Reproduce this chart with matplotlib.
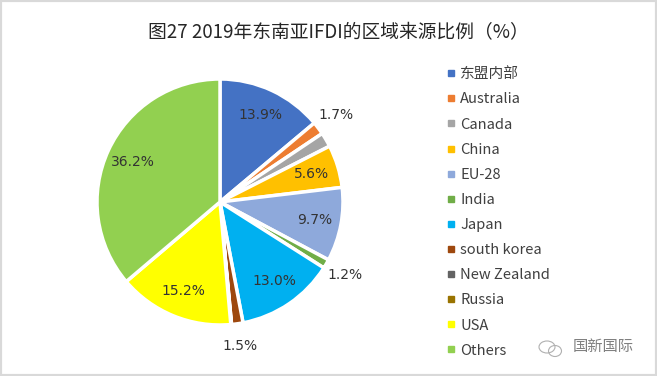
import numpy as np
import matplotlib.pyplot as plt
from matplotlib.lines import Line2D
from matplotlib.patches import Rectangle, Ellipse

plt.rcParams['font.family'] = ['Noto Sans CJK SC', 'DejaVu Sans']

labels = ['东盟内部', 'Australia', 'Canada', 'China', 'EU-28', 'India', 'Japan',
          'south korea', 'New Zealand', 'Russia', 'USA', 'Others']
values = [13.9, 1.7, 1.9, 5.6, 9.7, 1.2, 13.0, 1.5, 0.05, 0.05, 15.2, 36.2]
colors = ['#4472C4', '#ED7D31', '#A5A5A5', '#FFC000', '#8EA9DB', '#70AD47',
          '#00B0F0', '#9E480E', '#636363', '#997300', '#FFFF00', '#92D050']
# which slices carry a label, and whether it sits inside or outside
shown = {0: 'in', 1: 'out', 3: 'in', 4: 'in', 5: 'out', 6: 'in', 7: 'out', 10: 'in', 11: 'in'}

fig = plt.figure(figsize=(6.57, 3.76), dpi=100)
fig.patches.append(Rectangle((0, 0), 1, 1, transform=fig.transFigure, fill=False,
                             edgecolor='#d9d9d9', linewidth=3))

cx, cy, r = 220, 174, 123
ax = fig.add_axes([(cx - r) / 657, (cy - r) / 376, 2 * r / 657, 2 * r / 376])
wedges, _ = ax.pie(values, colors=colors, startangle=90, counterclock=False,
                   wedgeprops=dict(edgecolor='white', linewidth=2.5))
ax.set_xlim(-1, 1)
ax.set_ylim(-1, 1)
ax.axis('off')

for i, w in enumerate(wedges):
    if i not in shown:
        continue
    ang = np.deg2rad((w.theta1 + w.theta2) / 2)
    d = 0.78 if shown[i] == 'in' else 1.18
    ax.text(d * np.cos(ang), d * np.sin(ang), f'{values[i]:.1f}%', ha='center', va='center',
            fontsize=10, color='#333333', family='DejaVu Sans', clip_on=False)

fig.text(338 / 657, 1 - 33 / 376, '图27 2019年东南亚IFDI的区域来源比例（%）', ha='center', va='center',
         fontsize=13.5, color='#262626')

handles = [Line2D([], [], marker='s', linestyle='None', markersize=5, color=c) for c in colors]
fig.legend(handles, labels, loc='upper left', bbox_to_anchor=(439 / 657, 1 - 60 / 376),
           frameon=False, fontsize=10.6, handlelength=0.6, handletextpad=0.35,
           labelspacing=0.755, borderpad=0, labelcolor='#404040')

# watermark
for (ex, ey, ew, eh) in [(547, 347, 16, 12), (555, 351, 13, 11)]:
    fig.patches.append(Ellipse((ex / 657, 1 - ey / 376), ew / 657, eh / 376,
                               transform=fig.transFigure, fill=False,
                               edgecolor='#b0b0b0', linewidth=0.8))
fig.text(573 / 657, 1 - 346 / 376, '国新国际', ha='left', va='center', fontsize=11, color='#808080')

fig.savefig('out.png', dpi=100)
